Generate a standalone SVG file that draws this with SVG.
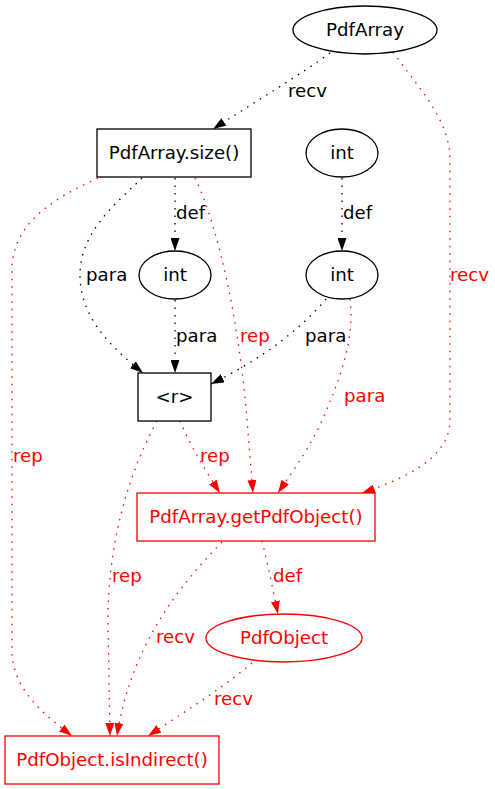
<svg xmlns="http://www.w3.org/2000/svg" width="495" height="789" viewBox="0 0 495 789">
<style>
text{font-family:"DejaVu Sans","Liberation Sans",sans-serif;font-size:18.2px}
.n{fill:#fff;stroke:#000;stroke-width:1.3}
.nr{fill:#fff;stroke:#f00;stroke-width:1.3}
.c{text-anchor:middle}
.e{fill:none;stroke:#000;stroke-width:1.3;stroke-dasharray:1.5,6;marker-end:url(#ab)}
.er{fill:none;stroke:#f00;stroke-width:1.3;stroke-dasharray:1.5,6;marker-end:url(#ar)}
.r{fill:#f00}
</style>
<defs>
<marker id="ab" viewBox="0 0 13 9" refX="13" refY="4.5" markerWidth="13" markerHeight="9" markerUnits="userSpaceOnUse" orient="auto"><path d="M0,0L13,4.5L0,9z" fill="#000"/></marker>
<marker id="ar" viewBox="0 0 13 9" refX="13" refY="4.5" markerWidth="13" markerHeight="9" markerUnits="userSpaceOnUse" orient="auto"><path d="M0,0L13,4.5L0,9z" fill="#f00"/></marker>
</defs>
<g id="edges">
<path class="e" d="M330,53 C300,75 250,105 213,129"/>
<path class="er" d="M393,52 C420,90 450,120 450,160 L450,420 C450,460 400,480 362,493"/>
<path class="e" d="M142,178 C120,200 80,230 80,275 C80,320 115,350 143,373"/>
<path class="e" d="M175,178 L175,251"/>
<path class="er" d="M195,178 C220,230 240,330 247,420 L253,493"/>
<path class="er" d="M98,178 C50,200 12,225 12,270 L12,650 C12,690 45,715 72,736"/>
<path class="e" d="M342,178 L342,251"/>
<path class="e" d="M175,300 L175,373"/>
<path class="e" d="M326,299 C300,330 260,360 211,384"/>
<path class="er" d="M350,299 C355,340 340,380 320,425 C305,455 290,475 278,493"/>
<path class="er" d="M180,421 C190,445 205,470 220,493"/>
<path class="er" d="M157,421 C125,480 108,550 108,620 L110,736"/>
<path class="er" d="M222,542 C175,590 130,650 117,736"/>
<path class="er" d="M262,541 C268,565 273,590 278,614"/>
<path class="er" d="M252,663 C220,690 180,715 148,736"/>
<text x="288" y="97">recv</text>
<text class="r" x="450" y="281">recv</text>
<text x="86" y="281">para</text>
<text x="176" y="219">def</text>
<text x="343" y="219">def</text>
<text x="176" y="342">para</text>
<text class="r" x="240" y="342">rep</text>
<text x="305" y="342">para</text>
<text class="r" x="344" y="402">para</text>
<text class="r" x="13" y="462">rep</text>
<text class="r" x="200" y="462">rep</text>
<text class="r" x="112" y="582">rep</text>
<text class="r" x="273" y="582">def</text>
<text class="r" x="156" y="643">recv</text>
<text class="r" x="214" y="705">recv</text>
</g>
<g id="PdfArray"><ellipse class="n" cx="365" cy="30" rx="72" ry="24"/><text class="c" x="365" y="36">PdfArray</text></g>
<g id="size"><rect class="n" x="97" y="129" width="154" height="48"/><text class="c" x="174" y="159">PdfArray.size()</text></g>
<g id="int_top"><ellipse class="n" cx="342" cy="153" rx="36" ry="24"/><text class="c" x="342" y="159">int</text></g>
<g id="int_left"><ellipse class="n" cx="175" cy="275" rx="36" ry="24"/><text class="c" x="175" y="281">int</text></g>
<g id="int_right"><ellipse class="n" cx="342" cy="275" rx="36" ry="24"/><text class="c" x="342" y="281">int</text></g>
<g id="r"><rect class="n" x="138" y="373" width="73" height="48"/><text class="c" x="174.5" y="403">&lt;r&gt;</text></g>
<g id="getPdfObject"><rect class="nr" x="137" y="493" width="238" height="48"/><text class="c r" x="256" y="523">PdfArray.getPdfObject()</text></g>
<g id="PdfObject"><ellipse class="nr" cx="284" cy="638" rx="78" ry="24"/><text class="c r" x="284" y="644">PdfObject</text></g>
<g id="isIndirect"><rect class="nr" x="5" y="736" width="214" height="48"/><text class="c r" x="112" y="766">PdfObject.isIndirect()</text></g>
</svg>
